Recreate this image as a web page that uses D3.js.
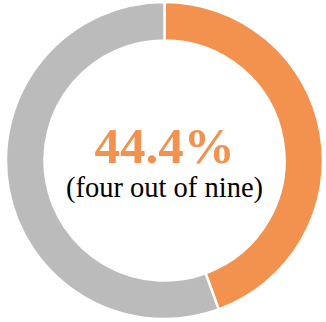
<!DOCTYPE html>
<html><head><meta charset="utf-8">
<script src="https://cdn.jsdelivr.net/npm/d3@7"></script>
<style>html,body{margin:0;padding:0;background:#fff;}svg{display:block;}</style>
</head><body>
<svg id="c" width="326" height="322"></svg>
<script>
const categories = ["Yes", "No"];
const values = [4, 5];
const colors = ["#F2924E", "#BBBBBB"];
const mainLabel = "44.4%";
const subLabel = "(four out of nine)";

const svg = d3.select("#c");
const cx = 164.5, cy = 160.5, rOuter = 158.5, rInner = 120;
const g = svg.append("g").attr("transform", `translate(${cx},${cy})`);
const pie = d3.pie().sort(null).value(d => d)(values);
const arc = d3.arc().innerRadius(rInner).outerRadius(rOuter);
g.selectAll("path").data(pie).join("path")
  .attr("d", arc)
  .attr("fill", (d, i) => colors[i])
  .attr("stroke", "#fff").attr("stroke-width", 2.5);

g.append("text").attr("x", 0).attr("y", 2)
  .attr("text-anchor", "middle")
  .attr("font-family", "Liberation Serif, Times New Roman, serif")
  .attr("font-weight", "bold").attr("font-size", 51)
  .attr("fill", "#F2924E").text(mainLabel);
g.append("text").attr("x", 0).attr("y", 36)
  .attr("text-anchor", "middle")
  .attr("font-family", "Liberation Serif, Times New Roman, serif")
  .attr("font-size", 28.5)
  .attr("fill", "#000").text(subLabel);
</script>
</body></html>
